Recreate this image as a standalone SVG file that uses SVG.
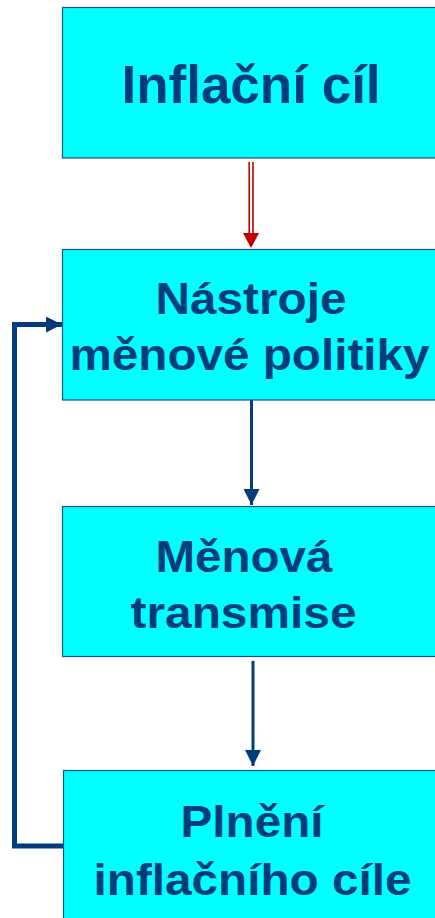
<svg xmlns="http://www.w3.org/2000/svg" width="435" height="918" viewBox="0 0 435 918">
<style>
.box{fill:#00FFFF;stroke:#1F4E8C;stroke-width:1.2}
.t{font-family:"Liberation Sans",Arial,sans-serif;font-weight:bold;fill:#003D7A;text-anchor:middle}
.big{font-size:53px}
.med{font-size:44px}
.conn{fill:none;stroke:#003D7A}
</style>
<defs>
<marker id="ab" markerUnits="userSpaceOnUse" markerWidth="17" markerHeight="17" refX="16" refY="8" orient="auto"><path d="M0,0 L16,8 L0,16 Z" fill="#003D7A"/></marker>
</defs>
<rect width="435" height="918" fill="#FFFFFF"/>
<g id="connectors">
<g id="red-arrow">
<line x1="249.2" y1="162" x2="249.2" y2="234" stroke="#C00000" stroke-width="1.6"/>
<line x1="253" y1="162" x2="253" y2="234" stroke="#C00000" stroke-width="1.6"/>
<path d="M243,233 L259,233 L251,248 Z" fill="#C00000"/>
</g>
<line class="conn" x1="251.5" y1="400" x2="251.5" y2="505" stroke-width="3" marker-end="url(#ab)"/>
<line class="conn" x1="253" y1="661" x2="253" y2="766" stroke-width="3" marker-end="url(#ab)"/>
<path class="conn" d="M63,846 H14.5 V324.5 H62" stroke-width="5" marker-end="url(#ab)"/>
</g>
<g id="node-inflacni-cil">
<rect class="box" x="62.5" y="7.5" width="380" height="150.5"/>
<text class="t big" x="251" y="103">Inflační cíl</text>
</g>
<g id="node-nastroje">
<rect class="box" x="62.5" y="249.5" width="380" height="150.5"/>
<text class="t med" x="251" y="314" textLength="191" lengthAdjust="spacingAndGlyphs">Nástroje</text>
<text class="t med" x="249.5" y="370" textLength="360" lengthAdjust="spacingAndGlyphs">měnové politiky</text>
</g>
<g id="node-transmise">
<rect class="box" x="62.5" y="506.5" width="380" height="150"/>
<text class="t med" x="244" y="572" textLength="177" lengthAdjust="spacingAndGlyphs">Měnová</text>
<text class="t med" x="243.5" y="628" textLength="226" lengthAdjust="spacingAndGlyphs">transmise</text>
</g>
<g id="node-plneni">
<rect class="box" x="63.5" y="770.5" width="380" height="160"/>
<text class="t med" x="252" y="837" textLength="143" lengthAdjust="spacingAndGlyphs">Plnění</text>
<text class="t med" x="252.5" y="895" textLength="318" lengthAdjust="spacingAndGlyphs">inflačního cíle</text>
</g>
</svg>
